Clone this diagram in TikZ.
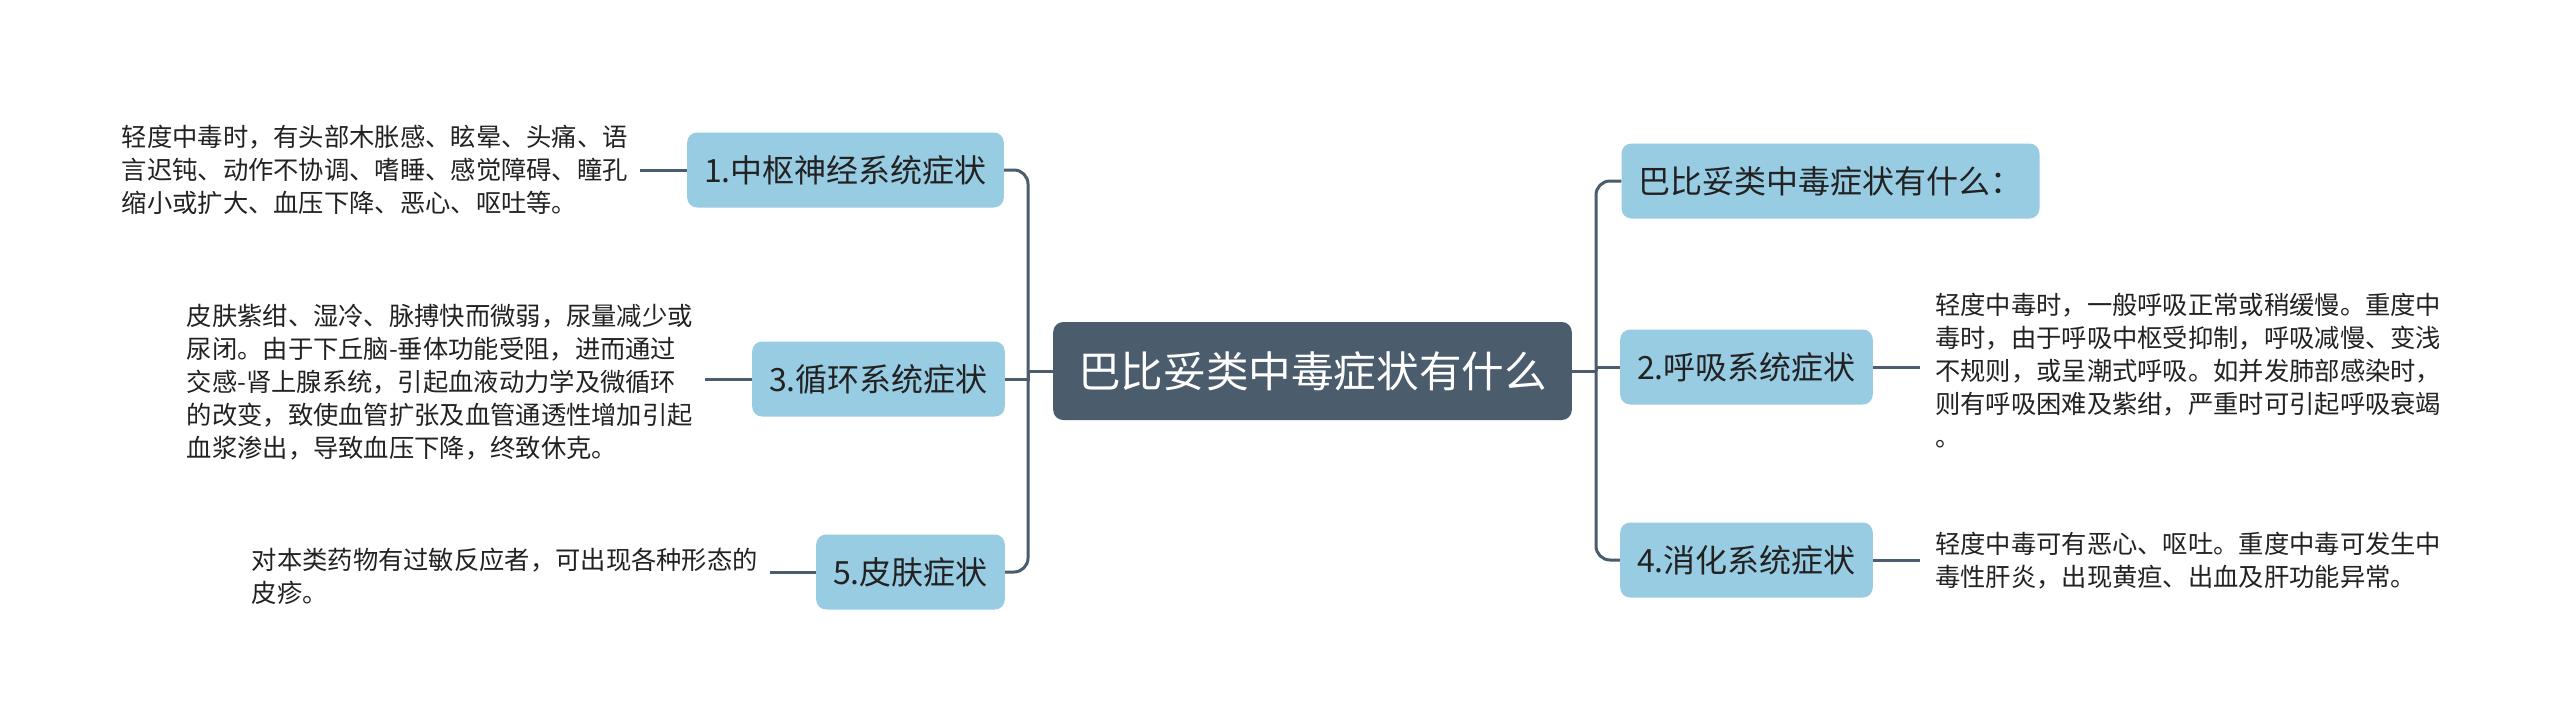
\documentclass[tikz,border=0pt]{standalone}
\usepackage{fontspec}
\setmainfont{Noto Sans CJK SC}
\begin{document}
\begin{tikzpicture}[x=1pt,y=-1pt,
  topicbox/.style={draw=none,fill=boxblue,rounded corners=10pt,minimum height=75pt,inner xsep=17pt,inner ysep=0pt,font=\fontsize{32}{36}\selectfont,text=textdark,anchor=center},
  centerbox/.style={draw=none,fill=centerdark,rounded corners=10pt,minimum height=98pt,inner xsep=25pt,inner ysep=0pt,font=\fontsize{42.6}{48}\selectfont,text=white},
  leaftext/.style={align=left,inner xsep=12pt,inner ysep=0pt,font=\fontsize{25.3}{33}\selectfont,text=textdark},
  conn/.style={draw=linecol,line width=3pt},
  branch/.style={conn,rounded corners=14pt}
]
\definecolor{boxblue}{HTML}{98CCE3}
\definecolor{centerdark}{HTML}{4B5C6C}
\definecolor{linecol}{HTML}{4B5C6C}
\definecolor{textdark}{HTML}{222222}
\useasboundingbox (0,0) rectangle (2560,726);
\fill[white] (0,0) rectangle (2560,726);

% central
\node[centerbox] (c) at (1312.5,371) {巴比妥类中毒症状有什么};

% left branches
\node[topicbox] (b1) at (845.5,170) {1.中枢神经系统症状};
\node[topicbox] (b3) at (878.5,379) {3.循环系统症状};
\node[topicbox] (b5) at (910.5,572) {5.皮肤症状};

% right branches
\node[topicbox] (t0) at (1830.5,181) {巴比妥类中毒症状有什么：};
\node[topicbox] (b2) at (1746.5,367) {2.呼吸系统症状};
\node[topicbox] (b4) at (1746.5,560) {4.消化系统症状};

% trunks
\coordinate (lt) at (1028,371);
\coordinate (rt) at (1596,371);
\draw[conn] (c.west) -- (lt);
\draw[conn] (c.east) -- (rt);
\draw[branch] (lt) |- (b1.east);
\draw[conn] (lt) |- (b3.east);
\draw[branch] (lt) |- (b5.east);
\draw[branch] (rt) |- (t0.west);
\draw[conn] (rt) |- (b2.west);
\draw[branch] (rt) |- (b4.west);

% leaves
\node[leaftext,anchor=east] (l1) at (640,170) {轻度中毒时，有头部木胀感、眩晕、头痛、语\\言迟钝、动作不协调、嗜睡、感觉障碍、瞳孔\\缩小或扩大、血压下降、恶心、呕吐等。};
\node[leaftext,anchor=east] (l3) at (705,382) {皮肤紫绀、湿冷、脉搏快而微弱，尿量减少或\\尿闭。由于下丘脑-垂体功能受阻，进而通过\\交感-肾上腺系统，引起血液动力学及微循环\\的改变，致使血管扩张及血管通透性增加引起\\血浆渗出，导致血压下降，终致休克。};
\node[leaftext,anchor=east] (l5) at (770,576) {对本类药物有过敏反应者，可出现各种形态的\\皮疹。};
\node[leaftext,anchor=west,inner xsep=15pt] (l2) at (1920,371) {轻度中毒时，一般呼吸正常或稍缓慢。重度中\\毒时，由于呼吸中枢受抑制，呼吸减慢、变浅\\不规则，或呈潮式呼吸。如并发肺部感染时，\\则有呼吸困难及紫绀，严重时可引起呼吸衰竭\\。};
\node[leaftext,anchor=west,inner xsep=15pt] (l4) at (1920,561) {轻度中毒可有恶心、呕吐。重度中毒可发生中\\毒性肝炎，出现黄疸、出血及肝功能异常。};

\draw[conn] (b1.west) -- (b1.west -| l1.east);
\draw[conn] (b3.west) -- (b3.west -| l3.east);
\draw[conn] (b5.west) -- (b5.west -| l5.east);
\draw[conn] (b2.east) -- (b2.east -| l2.west);
\draw[conn] (b4.east) -- (b4.east -| l4.west);
\end{tikzpicture}
\end{document}
